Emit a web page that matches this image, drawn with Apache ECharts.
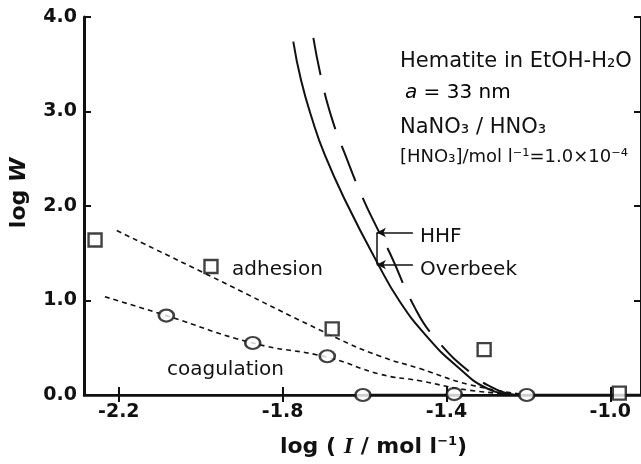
<!DOCTYPE html>
<html>
<head>
<meta charset="utf-8">
<script src="https://cdn.jsdelivr.net/npm/echarts@6/dist/echarts.min.js"></script>
<style>
html,body{margin:0;padding:0;background:#fff;overflow:hidden;}
#chart{width:641px;height:464px;}
</style>
</head>
<body>
<div id="chart"></div>
<script>
// ---- data (log I, log W) ----
const adhesionPoints = [[-2.258,1.64],[-1.975,1.36],[-1.679,0.70],[-1.308,0.48],[-0.978,0.02]];
const coagulationPoints = [[-2.084,0.84],[-1.873,0.55],[-1.691,0.41],[-1.604,0.0],[-1.381,0.01],[-1.204,0.0]];
const adhesionFit = [[-2.205,1.74],[-1.982,1.27],[-1.676,0.62],[-1.562,0.41],[-1.465,0.28],[-1.344,0.11],[-1.204,0.0]];
const coagulationFit = [[-2.234,1.04],[-2.084,0.84],[-1.873,0.55],[-1.691,0.40],[-1.562,0.22],[-1.465,0.15],[-1.344,0.05],[-1.204,0.0]];
const overbeekCurve = [[-1.774,3.74],[-1.755,3.33],[-1.728,2.92],[-1.697,2.54],[-1.645,2.04],[-1.570,1.41],[-1.514,0.99],[-1.448,0.62],[-1.376,0.31],[-1.296,0.06],[-1.230,0.0]];
const hhfCurve = [[-1.725,3.78],[-1.705,3.34],[-1.680,2.93],[-1.647,2.54],[-1.606,2.10],[-1.572,1.79],[-1.538,1.50],[-1.478,0.93],[-1.427,0.60],[-1.337,0.22],[-1.279,0.06],[-1.230,0.0]];
const baselineSegments = [[-1.604,0],[-1.381,0],[null,null],[-1.204,0],[-0.925,0]];
const xTickValues = [-2.2,-1.8,-1.4,-1.0];
const xTickLabels = ['-2.2','-1.8','-1.4','-1.0'];
const yTickLabels = ['0.0','1.0','2.0','3.0','4.0'];
// arrows: [from, to]
const hhfArrow = [[-1.482,1.72],[-1.570,1.72]];
const overbeekArrow = [[-1.482,1.38],[-1.570,1.38]];
const arrowJoin = [[-1.570,1.72],[-1.570,1.38]];

const chart = echarts.init(document.getElementById('chart'));
const FONT = '"DejaVu Sans", Verdana, sans-serif';
const black = '#111';

const option = {
  animation:false,
  backgroundColor:'#fff',
  grid:{left:82, top:17, width:561, height:386},
  xAxis:[{
    type:'value', min:-2.285, max:-0.925, position:'bottom',
    axisLine:{lineStyle:{color:black,width:2.5}},
    axisTick:{inside:true,length:8,customValues:xTickValues,lineStyle:{color:black,width:2}},
    axisLabel:{customValues:xTickValues,formatter:(v)=>xTickLabels[xTickValues.findIndex(t=>Math.abs(t-v)<1e-6)],
      color:black,fontSize:19,fontWeight:'bold',fontFamily:FONT,margin:8},
    splitLine:{show:false},
    name:'{b|log ( }{i|I}{b| / mol l}{s|−1}{b|)}', nameLocation:'middle', nameGap:40,
    nameTextStyle:{padding:[0,0,0,22],rich:{
      b:{fontSize:22,fontWeight:'bold',fontFamily:FONT,color:black},
      i:{fontSize:24,fontWeight:'bold',fontStyle:'italic',fontFamily:'"Liberation Serif", serif',color:black},
      s:{fontSize:13,fontWeight:'bold',fontFamily:FONT,color:black,verticalAlign:'top',lineHeight:14}
    }}
  },{
    type:'value', min:-2.285, max:-0.925, position:'top',
    axisLine:{lineStyle:{color:black,width:2}},
    axisTick:{inside:true,length:7,customValues:xTickValues,lineStyle:{color:black,width:2}},
    axisLabel:{show:false}, splitLine:{show:false}
  }],
  yAxis:[{
    type:'value', min:0, max:4, interval:1,
    axisLine:{show:true,lineStyle:{color:black,width:3}},
    axisTick:{show:true,inside:true,length:7,lineStyle:{color:black,width:2}},
    axisLabel:{formatter:(v)=>yTickLabels[Math.round(v)],color:black,fontSize:19,fontWeight:'bold',fontFamily:FONT,margin:7},
    splitLine:{show:false},
    name:'{b|log }{i|W}', nameLocation:'middle', nameGap:54, nameRotate:90,
    nameTextStyle:{padding:[0,0,0,26],rich:{
      b:{fontSize:22,fontWeight:'bold',fontFamily:FONT,color:black},
      i:{fontSize:22,fontWeight:'bold',fontStyle:'italic',fontFamily:FONT,color:black}
    }}
  },{
    type:'value', min:0, max:4, interval:1, position:'right',
    axisLine:{show:true,lineStyle:{color:black,width:2}},
    axisTick:{show:true,inside:true,length:7,lineStyle:{color:black,width:2}},
    axisLabel:{show:false}, splitLine:{show:false}
  }],
  series:[
    {type:'line',data:adhesionFit,smooth:true,showSymbol:false,symbol:'none',
      lineStyle:{color:black,width:1.6,type:[5,4]},z:2},
    {type:'line',data:coagulationFit,smooth:true,showSymbol:false,symbol:'none',
      lineStyle:{color:black,width:1.6,type:[5,4]},z:2},
    {type:'line',data:overbeekCurve,smooth:true,showSymbol:false,symbol:'none',
      lineStyle:{color:black,width:2},z:3},
    {type:'line',data:hhfCurve,smooth:true,showSymbol:false,symbol:'none',
      lineStyle:{color:black,width:2,type:[38,18]},z:3},
    {type:'line',data:baselineSegments,connectNulls:false,showSymbol:false,symbol:'none',
      lineStyle:{color:black,width:2.5},z:3},
    {type:'line',data:[],symbol:'none',z:4,
      markLine:{silent:true,symbol:['none','arrow'],symbolSize:[7,9],label:{show:false},
        lineStyle:{color:black,width:1.5,type:'solid'},
        data:[
          [{coord:hhfArrow[0]},{coord:hhfArrow[1]}],
          [{coord:overbeekArrow[0]},{coord:overbeekArrow[1]}],
          [{coord:arrowJoin[0],symbol:'none'},{coord:arrowJoin[1],symbol:'none'}]
        ]}},
    {type:'scatter',data:adhesionPoints,symbol:'rect',symbolSize:13,
      itemStyle:{color:'#fff',borderColor:black,borderWidth:2.4},z:5},
    {type:'scatter',data:coagulationPoints,symbol:'circle',symbolSize:[15,12],
      itemStyle:{color:'#fff',borderColor:black,borderWidth:2.4},z:5}
  ],
  graphic:[
    {type:'text',x:400,y:62,style:{text:'Hematite in EtOH-H₂O',font:'21px '+FONT,fill:black,verticalAlign:'middle'}},
    {type:'text',x:405,y:93,style:{text:'{i|a}{n| = 33 nm}',verticalAlign:'middle',rich:{
      i:{fontSize:20,fontStyle:'italic',fontFamily:FONT,color:black},
      n:{fontSize:20,fontFamily:FONT,color:black}}}},
    {type:'text',x:400,y:128,style:{text:'NaNO₃ / HNO₃',font:'21px '+FONT,fill:black,verticalAlign:'middle'}},
    {type:'text',x:400,y:157,style:{text:'[HNO₃]/mol l⁻¹=1.0×10⁻⁴',font:'18px '+FONT,fill:black,verticalAlign:'middle'}},
    {type:'text',x:420,y:237,style:{text:'HHF',font:'20px '+FONT,fill:black,verticalAlign:'middle'}},
    {type:'text',x:420,y:270,style:{text:'Overbeek',font:'20px '+FONT,fill:black,verticalAlign:'middle'}},
    {type:'text',x:232,y:270,style:{text:'adhesion',font:'20px '+FONT,fill:black,verticalAlign:'middle'}},
    {type:'text',x:167,y:370,style:{text:'coagulation',font:'20px '+FONT,fill:black,verticalAlign:'middle'}}
  ]
};
chart.setOption(option);
</script>
</body>
</html>
